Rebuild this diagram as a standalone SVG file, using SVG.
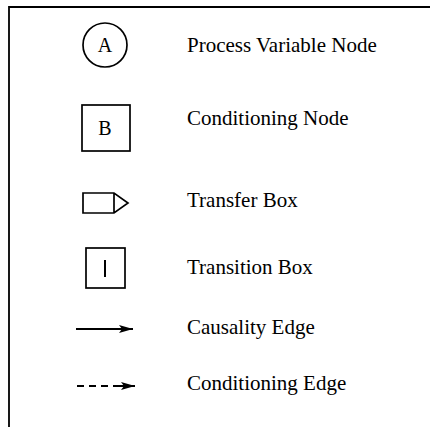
<svg xmlns="http://www.w3.org/2000/svg" width="430" height="427" viewBox="0 0 430 427">
<style>
.shape{fill:none;stroke:#000;stroke-width:1.7}
.label{font-family:"Liberation Serif","Times New Roman",serif;font-size:21px;fill:#000}
.sym{font-family:"Liberation Serif","Times New Roman",serif;fill:#000;text-anchor:middle;font-size:20px}
.edge{stroke:#000;stroke-width:2;fill:none}
</style>
<defs>
<marker id="arrow" markerUnits="userSpaceOnUse" markerWidth="16" markerHeight="10" refX="14" refY="4.5" orient="auto">
<path d="M0,0.5 L14,4.5 L0,8.5 L3,4.5 Z" fill="#000"/>
</marker>
</defs>
<g id="frame">
<path d="M9,427 L9,7 L430,7" fill="none" stroke="#000" stroke-width="1.8"/>
</g>
<g id="process-variable-node">
<circle class="shape" cx="105" cy="45" r="22"/>
<text class="sym" x="105" y="52">A</text>
<text class="label" x="187" y="52">Process Variable Node</text>
</g>
<g id="conditioning-node">
<rect class="shape" x="82" y="105" width="48" height="46"/>
<text class="sym" x="105" y="135">B</text>
<text class="label" x="187" y="125">Conditioning Node</text>
</g>
<g id="transfer-box">
<path class="shape" d="M83,193 L114,193 L128,203 L114,213 L83,213 Z M114,193 L114,213"/>
<text class="label" x="187" y="207">Transfer Box</text>
</g>
<g id="transition-box">
<rect class="shape" x="86" y="248" width="39" height="40"/>
<line x1="105" y1="260" x2="105" y2="277" stroke="#000" stroke-width="2"/>
<text class="label" x="187" y="274">Transition Box</text>
</g>
<g id="connectors">
<line class="edge" x1="76" y1="329" x2="133" y2="329" marker-end="url(#arrow)"/>
<text class="label" x="187" y="334">Causality Edge</text>
<line class="edge" x1="77" y1="386" x2="120" y2="386" stroke-dasharray="7,5"/>
<line class="edge" x1="118" y1="386" x2="135" y2="386" marker-end="url(#arrow)"/>
<text class="label" x="187" y="390">Conditioning Edge</text>
</g>
</svg>
